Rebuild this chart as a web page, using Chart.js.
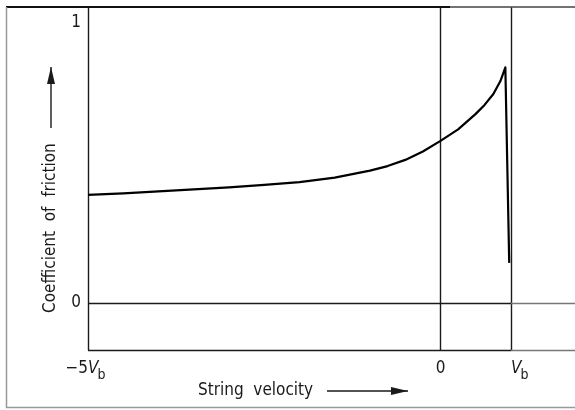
<!DOCTYPE html>
<html>
<head>
<meta charset="utf-8">
<script src="https://cdn.jsdelivr.net/npm/chart.js@4"></script>
<style>
  body { margin: 0; background: #fff; }
  #wrap { width: 575px; height: 410px; }
</style>
</head>
<body>
<div id="wrap"><canvas id="frictionChart"></canvas></div>
<script>
// Datos (velocidad en unidades de Vb)
const velocity = [-5, -4.5, -4, -3.5, -3, -2.5, -2, -1.5, -1, -0.75, -0.5, -0.25, 0, 0.25, 0.5, 0.625, 0.75, 0.85, 0.92, 0.975];
const friction = [0.385, 0.391, 0.398, 0.405, 0.412, 0.421, 0.431, 0.447, 0.472, 0.488, 0.510, 0.540, 0.578, 0.619, 0.674, 0.706, 0.745, 0.791, 0.840, 0.143];

const xTicks = [-5, 0, 1];
const xTickLabels = ['−5Vb', '0', 'Vb'];
const yTicks = [0, 1];
const yTickLabels = ['0', '1'];

const xTitle = 'String  velocity';
const yTitle = 'Coefficient  of  friction';

const FONT = '"DejaVu Sans Condensed", "Liberation Sans Narrow", sans-serif';
const INK = '#1a1a1a';

function arrow(ctx, x1, y1, x2, y2) {
    ctx.beginPath();
    ctx.moveTo(x1, y1);
    ctx.lineTo(x2, y2);
    ctx.stroke();
    const a = Math.atan2(y2 - y1, x2 - x1);
    ctx.save();
    ctx.translate(x2, y2);
    ctx.rotate(a);
    ctx.beginPath();
    ctx.moveTo(0, 0);
    ctx.lineTo(-17, -4);
    ctx.lineTo(-17, 4);
    ctx.closePath();
    ctx.fill();
    ctx.restore();
}

// Etiqueta con V en cursiva y b como subindice
function drawTickLabel(ctx, text, px, py) {
    ctx.textBaseline = 'middle';
    if (text.endsWith('Vb')) {
        const prefix = text.slice(0, -2);
        ctx.font = '17px ' + FONT;
        ctx.textAlign = 'right';
        ctx.fillText(prefix, px, py);
        ctx.font = 'italic 17px ' + FONT;
        ctx.textAlign = 'left';
        ctx.fillText('V', px, py);
        const w = ctx.measureText('V').width;
        ctx.font = '14px ' + FONT;
        ctx.fillText('b', px + w - 1, py + 6);
    } else {
        ctx.font = '17px ' + FONT;
        ctx.textAlign = 'center';
        ctx.fillText(text, px, py);
    }
}

const axesPlugin = {
    id: 'axesPlugin',
    beforeDatasetsDraw(chart) {
        const { ctx, chartArea, scales: { x, y } } = chart;
        ctx.save();
        ctx.strokeStyle = INK;
        ctx.lineWidth = 1.4;

        // lineas verticales en -5Vb, 0 y Vb
        xTicks.forEach(v => {
            const px = Math.round(x.getPixelForValue(v)) + 0.5;
            ctx.beginPath();
            ctx.moveTo(px, chartArea.top);
            ctx.lineTo(px, chartArea.bottom);
            ctx.stroke();
        });

        const xEnd = x.getPixelForValue(xTicks[xTicks.length - 1]);
        // linea de cero y eje inferior
        [0, y.min].forEach(v => {
            const py = Math.round(y.getPixelForValue(v)) + 0.5;
            ctx.strokeStyle = INK;
            ctx.beginPath();
            ctx.moveTo(chartArea.left, py);
            ctx.lineTo(xEnd, py);
            ctx.stroke();
            ctx.strokeStyle = '#777';
            ctx.beginPath();
            ctx.moveTo(xEnd, py);
            ctx.lineTo(chartArea.right, py);
            ctx.stroke();
        });

        // marco exterior
        ctx.strokeStyle = '#111';
        ctx.lineWidth = 2;
        ctx.beginPath();
        ctx.moveTo(6, chartArea.top);
        ctx.lineTo(450, chartArea.top);
        ctx.stroke();
        ctx.strokeStyle = '#444';
        ctx.lineWidth = 1.4;
        ctx.beginPath();
        ctx.moveTo(450, chartArea.top);
        ctx.lineTo(chartArea.right, chartArea.top);
        ctx.stroke();
        ctx.strokeStyle = '#999';
        ctx.lineWidth = 1.5;
        ctx.beginPath();
        ctx.moveTo(6.5, chartArea.top);
        ctx.lineTo(6.5, 407.5);
        ctx.lineTo(chartArea.right, 407.5);
        ctx.stroke();
        ctx.restore();
    },
    afterDraw(chart) {
        const { ctx, scales: { x, y } } = chart;
        ctx.save();
        ctx.fillStyle = INK;
        ctx.strokeStyle = INK;
        ctx.lineWidth = 1.4;

        xTicks.forEach((v, i) => {
            drawTickLabel(ctx, xTickLabels[i], x.getPixelForValue(v), 369);
        });
        yTicks.forEach((v, i) => {
            ctx.font = '17px ' + FONT;
            ctx.textAlign = 'right';
            ctx.textBaseline = 'middle';
            ctx.fillText(yTickLabels[i], 81, y.getPixelForValue(v));
        });

        // titulo eje x con flecha
        ctx.font = '17px ' + FONT;
        ctx.textAlign = 'left';
        ctx.textBaseline = 'middle';
        ctx.fillText(xTitle, 198, 391);
        arrow(ctx, 327, 391, 408, 391);

        // titulo eje y con flecha (rotado)
        ctx.save();
        ctx.translate(51, 313);
        ctx.rotate(-Math.PI / 2);
        ctx.fillText(yTitle, 0, 0);
        ctx.restore();
        arrow(ctx, 51, 128, 51, 67);
        ctx.restore();
    }
};

new Chart(document.getElementById('frictionChart'), {
    type: 'scatter',
    data: {
        datasets: [{
            data: velocity.map((v, i) => ({ x: v, y: friction[i] })),
            showLine: true,
            borderColor: '#000',
            borderWidth: 2.2,
            borderJoinStyle: 'round',
            pointRadius: 0,
            tension: 0,
            fill: false
        }]
    },
    options: {
        responsive: true,
        maintainAspectRatio: false,
        animation: false,
        layout: { padding: { left: 88, top: 7, right: 0, bottom: 60 } },
        plugins: { legend: { display: false }, tooltip: { enabled: false } },
        scales: {
            x: { type: 'linear', display: false, min: -5, max: 1.908 },
            y: { type: 'linear', display: false, min: -0.1676, max: 1.055 }
        }
    },
    plugins: [axesPlugin]
});
</script>
</body>
</html>
